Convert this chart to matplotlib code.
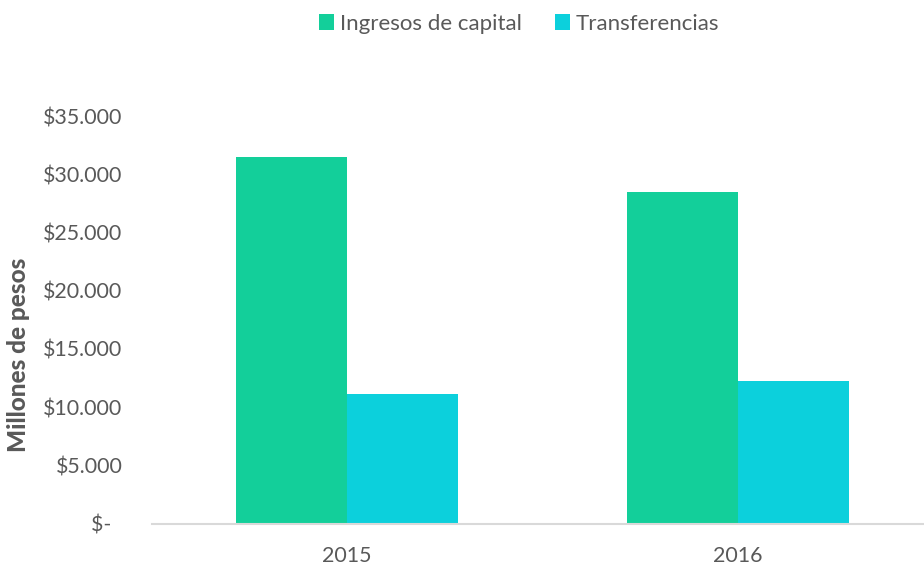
import matplotlib

matplotlib.use("Agg")
import matplotlib.pyplot as plt
from matplotlib.ticker import FuncFormatter, MultipleLocator
import numpy as np

plt.rcParams["font.family"] = ["Lato", "DejaVu Sans"]

anios = ["2015", "2016"]
ingresos_capital = [31500, 28500]
transferencias = [11100, 12200]
series = ["Ingresos de capital", "Transferencias"]

verde = "#13CF9A"
cian = "#0CD0DC"
gris = "#595959"

fig = plt.figure(figsize=(9.24, 5.64), dpi=100)
ax = fig.add_axes([151.5 / 924, (564 - 523.5) / 564, (924 - 151.5) / 924, (523.5 - 116) / 564])

x = np.arange(len(anios))
w = 0.284
ax.bar(x - w / 2, ingresos_capital, w, color=verde, label=series[0])
ax.bar(x + w / 2, transferencias, w, color=cian, label=series[1])

ax.set_xlim(-0.5, (924 - 347) / 391)
ax.set_ylim(0, 35000)
ax.yaxis.set_major_locator(MultipleLocator(5000))


def fmt(v, pos):
    if v == 0:
        return "$-  "
    return "$" + f"{int(v):,}".replace(",", ".")


ax.yaxis.set_major_formatter(FuncFormatter(fmt))
ax.set_xticks(x)
ax.set_xticklabels(anios)

for s in ["top", "right", "left"]:
    ax.spines[s].set_visible(False)
ax.spines["bottom"].set_color("#D9D9D9")
ax.spines["bottom"].set_linewidth(1.5)

ax.tick_params(axis="y", length=0, pad=21, labelsize=15.4, labelcolor=gris)
ax.tick_params(axis="x", length=0, pad=16, labelsize=15.4, labelcolor=gris)

ax.set_ylabel("Millones de pesos", fontsize=17.5, fontweight="black", color=gris)
ax.yaxis.set_label_coords(-0.157, 0.413)

fig.legend(
    loc="center",
    bbox_to_anchor=(519 / 924, 1 - 24 / 564),
    ncol=2,
    frameon=False,
    fontsize=16,
    labelcolor=gris,
    handlelength=0.7,
    handleheight=0.7,
    handletextpad=0.25,
    columnspacing=1.5,
)

fig.savefig("out.png", dpi=100)
